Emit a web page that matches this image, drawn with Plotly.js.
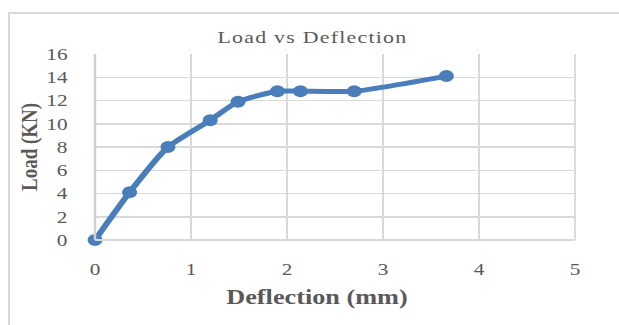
<!DOCTYPE html>
<html>
<head>
<meta charset="utf-8">
<script src="https://cdn.plot.ly/plotly-3.0.1.min.js"></script>
<style>
html,body{margin:0;padding:0;background:#fff;overflow:hidden;}
#frame{position:absolute;left:8px;top:12px;width:700px;height:400px;border:2px solid #d9d9d9;box-sizing:border-box;}
#chart{position:absolute;left:0;top:0;width:495px;height:325px;transform:scaleX(1.25);transform-origin:0 0;}
.gtitle{letter-spacing:1px;}
</style>
</head>
<body>
<div id="frame"></div>
<div id="chart"></div>
<script>
const deflection = [0, 0.36, 0.76, 1.2, 1.49, 1.9, 2.14, 2.7, 3.66];
const load = [0, 4.1, 8.0, 10.3, 11.9, 12.8, 12.8, 12.8, 14.1];
const xTicks = [0, 1, 2, 3, 4, 5];
const yTicks = [0, 2, 4, 6, 8, 10, 12, 14, 16];

const gray = '#595959';
const serif = '"Liberation Serif", "Times New Roman", serif';
const W = 495, L = 76, R = 35, T = 54, B = 85, H = 325;
const pw = W - L - R, ph = H - T - B;

Plotly.newPlot('chart', [{
  x: deflection, y: load,
  type: 'scatter', mode: 'lines+markers',
  line: {color: '#4a7ebb', width: 5, shape: 'spline', smoothing: 0.6},
  marker: {color: '#4a7ebb', size: 12},
  cliponaxis: false,
  hoverinfo: 'none'
}], {
  width: W, height: H,
  paper_bgcolor: 'rgba(0,0,0,0)', plot_bgcolor: 'rgba(0,0,0,0)',
  margin: {l: L, r: R, t: T, b: B},
  showlegend: false,
  title: {text: 'Load vs Deflection', xref: 'container', x: 0.505, xanchor: 'center', y: 0.885, yanchor: 'middle',
          font: {family: serif, size: 17.5, color: gray}},
  xaxis: {range: [0, 5], tickvals: xTicks, ticktext: xTicks.map(String),
          showgrid: true, gridcolor: '#d9d9d9', gridwidth: 1.5,
          zeroline: false, showline: false, ticks: '', ticklabelstandoff: 17,
          tickfont: {family: serif, size: 17, color: gray}},
  yaxis: {range: [0, 16], tickvals: yTicks, ticktext: yTicks.map(String),
          showgrid: true, gridcolor: '#d9d9d9', gridwidth: 1.5,
          zeroline: false, showline: false, ticks: '', ticklabelstandoff: 21,
          tickfont: {family: serif, size: 17, color: gray}},
  annotations: [
    {text: '<b>Deflection (mm)</b>', xref: 'paper', yref: 'paper',
     x: (253.6 - L) / pw, y: -(297 - (T + ph)) / ph, xanchor: 'center', yanchor: 'middle',
     showarrow: false, font: {family: serif, size: 21, color: gray}},
    {text: '<b>Load (KN)</b>', xref: 'paper', yref: 'paper', textangle: -90,
     x: (24 - L) / pw, y: 0.5, xanchor: 'center', yanchor: 'middle',
     showarrow: false, font: {family: serif, size: 19, color: gray}}
  ],
  shapes: [
    {type: 'line', xref: 'paper', yref: 'paper', x0: 1, x1: 1, y0: 0, y1: 1, line: {color: '#d9d9d9', width: 1.5}},
    {type: 'line', xref: 'paper', yref: 'paper', x0: 0, x1: 1, y0: 0, y1: 0, line: {color: '#d9d9d9', width: 2}},
    {type: 'line', xref: 'paper', yref: 'paper', x0: 0, x1: 0, y0: 0, y1: 1, line: {color: '#d0d0d0', width: 2}}
  ]
}, {displayModeBar: false, staticPlot: true});
</script>
</body>
</html>
